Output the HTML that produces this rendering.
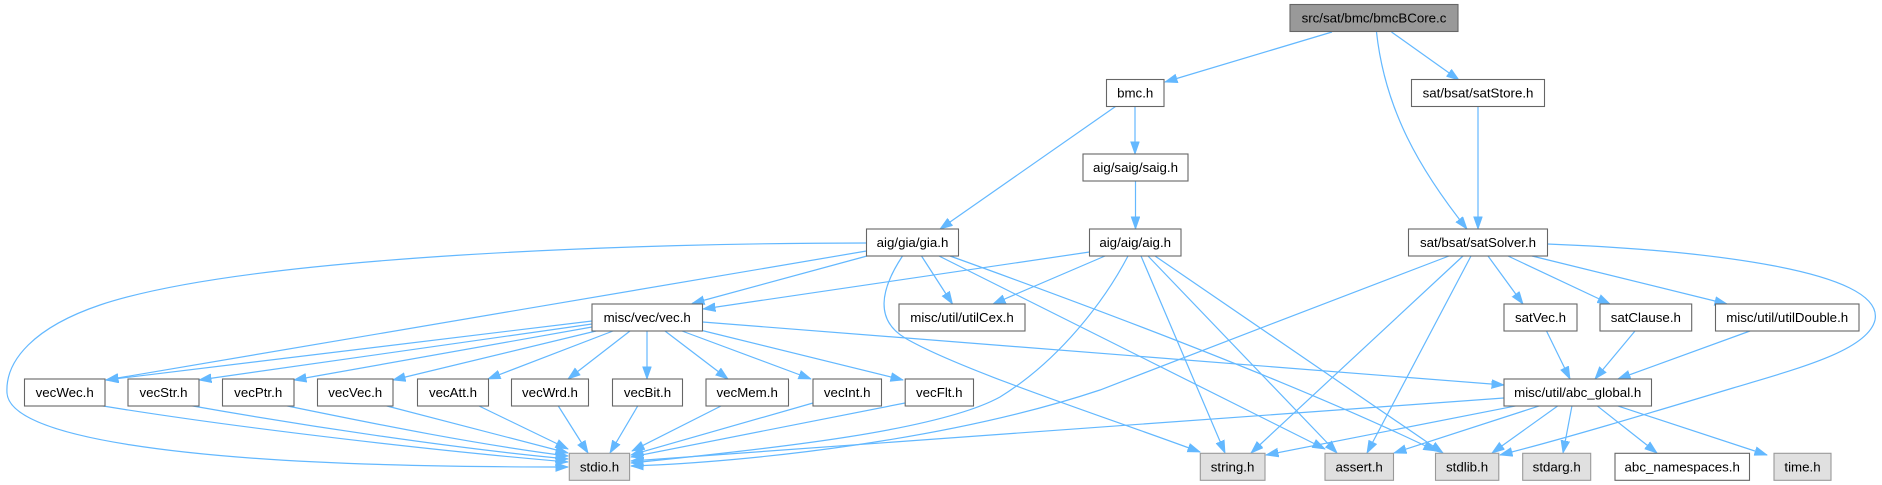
<!DOCTYPE html>
<html>
<head>
<meta charset="utf-8">
<style>
html,body{margin:0;padding:0;background:#fff;}
svg{display:block;}
text{font-family:"Liberation Sans",Arial,Helvetica,sans-serif;font-size:13.3px;fill:#000;text-anchor:middle;}
.n{fill:#fff;stroke:#666;stroke-width:1.1;}
.g{fill:#e0e0e0;stroke:#999;stroke-width:1.1;}
.t{fill:#999;stroke:#666;stroke-width:1.1;}
.e{fill:none;stroke:#63b8ff;stroke-width:1.2;marker-end:url(#a);}
</style>
</head>
<body>
<svg width="1882" height="485" viewBox="0 0 1882 485" xmlns="http://www.w3.org/2000/svg">
<defs>
<marker id="a" markerWidth="13" markerHeight="10" refX="12.5" refY="4.7" orient="auto" markerUnits="userSpaceOnUse">
<path d="M0,0.3 L12.5,4.7 L0,9.1 z" fill="#63b8ff" stroke="#63b8ff" stroke-width="0.8"/>
</marker>
</defs>

<!-- edges -->
<path class="e" d="M1332,32 L1165,82"/>
<path class="e" d="M1391.5,32 L1459,80"/>
<path class="e" d="M1376.5,32 C1385,110 1420,170 1467,229"/>
<path class="e" d="M1135,107 L1135,154"/>
<path class="e" d="M1135.5,181 L1135.5,229"/>
<path class="e" d="M1478,106.5 L1478,229"/>
<path class="e" d="M1115.5,106.5 L940,229"/>

<path class="e" d="M866.5,243 C650,243 250,255 100,305 C35,327 5,360 7,393 C10,440 200,460 400,465 C470,467 520,467 568,467"/>
<path class="e" d="M866.5,251 L106,380"/>
<path class="e" d="M867,256 L692,303.5"/>
<path class="e" d="M1089.5,252 L703,309"/>
<path class="e" d="M921.5,256 L952.5,304"/>
<path class="e" d="M1105,256 L993,304"/>
<path class="e" d="M902.5,256 C880,290 875,320 905,338 C960,370 1100,415 1200,452"/>
<path class="e" d="M939,256 L1325,449"/>
<path class="e" d="M950,256 C1100,310 1300,385 1436,451"/>

<path class="e" d="M1128,256 C1105,300 1060,360 1000,397 C940,430 780,448 631,463"/>
<path class="e" d="M1141,256 L1225,453"/>
<path class="e" d="M1148,256 L1337,453"/>
<path class="e" d="M1155,256 L1443,453"/>

<path class="e" d="M1449,256 C1320,305 1230,340 1100,390 C950,440 750,462 631,466"/>
<path class="e" d="M1463,256 L1251,453"/>
<path class="e" d="M1471,256 L1367,453"/>
<path class="e" d="M1547,244 C1700,250 1885,270 1875,320 C1868,350 1800,368 1733,388 C1650,413 1560,440 1500,455"/>
<path class="e" d="M1488,256 L1523,304"/>
<path class="e" d="M1508,256 L1610,304"/>
<path class="e" d="M1532,256 L1727,304"/>

<path class="e" d="M592,321 L106,380"/>
<path class="e" d="M592,324 L199,380"/>
<path class="e" d="M592,327 L294,380"/>
<path class="e" d="M596,331 L393,380"/>
<path class="e" d="M613,331 L488,379"/>
<path class="e" d="M630,331 L568,379"/>
<path class="e" d="M647,331 L647,379"/>
<path class="e" d="M665,331 L728,379"/>
<path class="e" d="M682,331 L811,379"/>
<path class="e" d="M700,330 L903,380"/>
<path class="e" d="M702.5,322 L1504,385"/>

<path class="e" d="M100,405.5 C250,430 450,452 568,462"/>
<path class="e" d="M190,405.5 C300,425 450,448 568,459"/>
<path class="e" d="M285,405.5 C380,425 480,445 568,456"/>
<path class="e" d="M385,405.5 L568,453"/>
<path class="e" d="M478,405.5 L568,449"/>
<path class="e" d="M558,405.5 L588,453"/>
<path class="e" d="M638,405.5 L610,453"/>
<path class="e" d="M722,405.5 L632,451"/>
<path class="e" d="M813,403 L631,455"/>
<path class="e" d="M905,403 L631,457"/>
<path class="e" d="M1504,398 C1300,415 900,440 631,461"/>

<path class="e" d="M1546.5,331 L1570,379"/>
<path class="e" d="M1635,331 L1595,379"/>
<path class="e" d="M1750,331 L1618,379"/>

<path class="e" d="M1517,405.7 L1266,455"/>
<path class="e" d="M1540,405.7 L1394,453"/>
<path class="e" d="M1558,405.7 L1492,453"/>
<path class="e" d="M1572,405.7 L1563,453"/>
<path class="e" d="M1597,405.7 L1657,453"/>
<path class="e" d="M1617,405.7 L1767,455"/>

<!-- nodes -->
<rect class="t" x="1290" y="4.5" width="168" height="27"/><text x="1374" y="22.5">src/sat/bmc/bmcBCore.c</text>

<rect class="n" x="1106.5" y="79.5" width="57.5" height="27"/><text x="1135.2" y="97.5">bmc.h</text>
<rect class="n" x="1411.5" y="79.5" width="133" height="27"/><text x="1478" y="97.5">sat/bsat/satStore.h</text>

<rect class="n" x="1083" y="154" width="105" height="27"/><text x="1135.5" y="172">aig/saig/saig.h</text>

<rect class="n" x="866.5" y="229" width="92" height="27"/><text x="912.5" y="247">aig/gia/gia.h</text>
<rect class="n" x="1089.5" y="229" width="91.5" height="27"/><text x="1135.2" y="247">aig/aig/aig.h</text>
<rect class="n" x="1408.5" y="229" width="139" height="27"/><text x="1478" y="247">sat/bsat/satSolver.h</text>

<rect class="n" x="592" y="304" width="110.5" height="27"/><text x="647.2" y="322">misc/vec/vec.h</text>
<rect class="n" x="899" y="304" width="126" height="27"/><text x="962" y="322">misc/util/utilCex.h</text>
<rect class="n" x="1504" y="304" width="73" height="27"/><text x="1540.5" y="322">satVec.h</text>
<rect class="n" x="1600" y="304" width="91.7" height="27"/><text x="1645.8" y="322">satClause.h</text>
<rect class="n" x="1715.5" y="304" width="143.5" height="27"/><text x="1787.2" y="322">misc/util/utilDouble.h</text>

<rect class="n" x="24.5" y="379" width="80.5" height="27"/><text x="64.7" y="397">vecWec.h</text>
<rect class="n" x="128" y="379" width="71" height="27"/><text x="163.5" y="397">vecStr.h</text>
<rect class="n" x="222.5" y="379" width="71.5" height="27"/><text x="258.2" y="397">vecPtr.h</text>
<rect class="n" x="317.5" y="379" width="75.5" height="27"/><text x="355.2" y="397">vecVec.h</text>
<rect class="n" x="417.5" y="379" width="71" height="27"/><text x="453" y="397">vecAtt.h</text>
<rect class="n" x="511.5" y="379" width="77" height="27"/><text x="550" y="397">vecWrd.h</text>
<rect class="n" x="612.5" y="379" width="70" height="27"/><text x="647.5" y="397">vecBit.h</text>
<rect class="n" x="706" y="379" width="82.5" height="27"/><text x="747.2" y="397">vecMem.h</text>
<rect class="n" x="813" y="379" width="68.5" height="27"/><text x="847.2" y="397">vecInt.h</text>
<rect class="n" x="905.2" y="379" width="68.3" height="27"/><text x="939.3" y="397">vecFlt.h</text>
<rect class="n" x="1504" y="379" width="147.5" height="27"/><text x="1577.7" y="397">misc/util/abc_global.h</text>

<rect class="g" x="569.3" y="453.3" width="60.3" height="27"/><text x="599.5" y="471.3">stdio.h</text>
<rect class="g" x="1200.3" y="453.3" width="64.7" height="27"/><text x="1232.6" y="471.3">string.h</text>
<rect class="g" x="1325" y="453.3" width="68.5" height="27"/><text x="1359.2" y="471.3">assert.h</text>
<rect class="g" x="1435.5" y="453.3" width="63.3" height="27"/><text x="1467.1" y="471.3">stdlib.h</text>
<rect class="g" x="1522.7" y="453.3" width="68" height="27"/><text x="1556.7" y="471.3">stdarg.h</text>
<rect class="n" x="1615" y="453.3" width="134.5" height="27"/><text x="1682.2" y="471.3">abc_namespaces.h</text>
<rect class="g" x="1774" y="453.3" width="57" height="27"/><text x="1802.5" y="471.3">time.h</text>
</svg>
</body>
</html>
